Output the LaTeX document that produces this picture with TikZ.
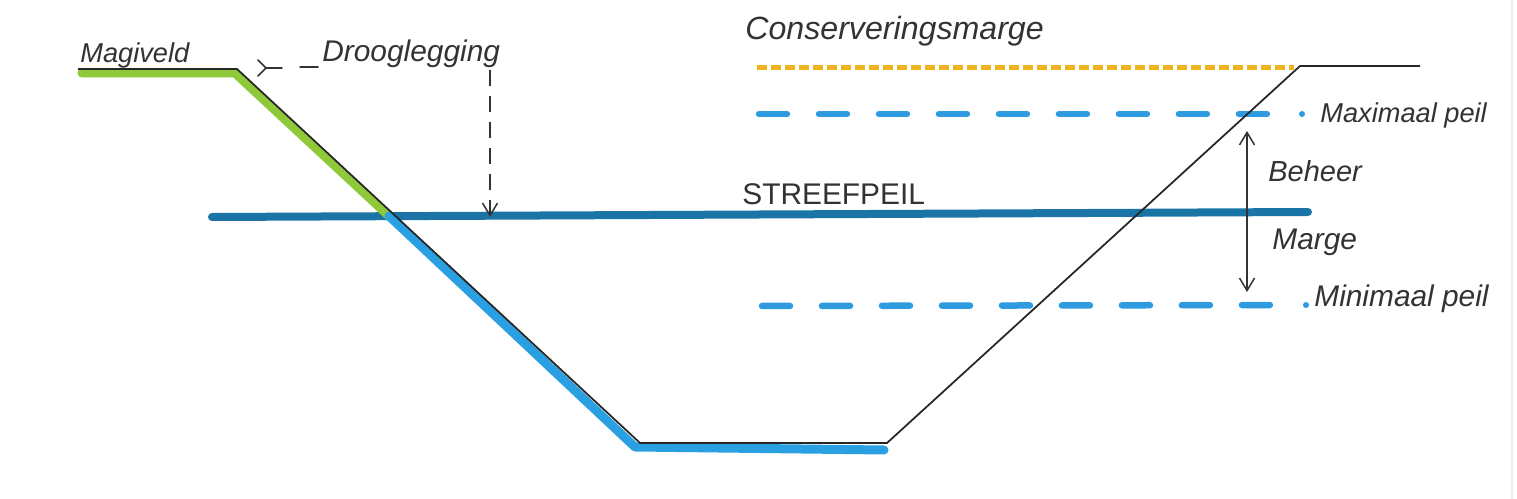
\documentclass[tikz,border=0pt]{standalone}
\usepackage{fontspec}
\setmainfont{Liberation Sans}
\usetikzlibrary{arrows.meta}
\definecolor{inkc}{HTML}{333333}
\definecolor{grassc}{HTML}{8FC93A}
\definecolor{wetc}{HTML}{2AA0E2}
\definecolor{streefc}{HTML}{1A75A6}
\definecolor{consc}{HTML}{F2B41C}
\definecolor{peilc}{HTML}{2E9BE0}
\tikzset{
  lbl/.style={inner sep=0pt, anchor=base west, text=inkc},
  profile/.style={draw=black!85, line width=0.035cm, line join=round},
  band/.style={line width=0.18cm, line join=round, line cap=round},
  peildash/.style={draw=peilc, line width=0.13cm, line cap=round, dash pattern=on 0.56cm off 0.64cm},
  consdash/.style={draw=consc, line width=0.1cm, dash pattern=on 0.2cm off 0.08cm},
  dimdash/.style={draw=inkc, line width=0.03cm, dash pattern=on 0.32cm off 0.2cm},
  dimtip/.style={-{Straight Barb[length=0.25cm,width=0.3cm,line width=0.03cm]}},
}
\begin{document}
\begin{tikzpicture}[x=0.02cm,y=-0.02cm]
\useasboundingbox[fill=white] (0,0) rectangle (1517,499);
\draw[black!7, line width=0.03cm] (1512,0) -- (1512,499);

% profile points
\coordinate (p0) at (78,69);
\coordinate (p1) at (237,69);
\coordinate (p2) at (640,443);
\coordinate (p3) at (887,443);
\coordinate (p4) at (1300,66);
\coordinate (p5) at (1420,66);

% streefpeil line
\coordinate (s0) at (212,217);
\coordinate (s1) at (1308,212);
\draw[draw=streefc, line width=0.16cm, line cap=round] (s0) -- (s1);

% green and blue bands along the slope
\coordinate (g0) at (82,73);
\coordinate (g1) at (235,73);
\coordinate (g2) at (389,216);
\coordinate (b0) at (389,216);
\coordinate (b1) at (635,447);
\coordinate (b2) at (884,450);
\draw[band, draw=grassc] (g0) -- (g1) -- (g2);
\draw[band, draw=wetc] (b0) -- (b1) -- (b2);

% conserveringsmarge and peil lines
\coordinate (c0) at (757,68);
\coordinate (c1) at (1294,68);
\draw[consdash] (c0) -- (c1);
\coordinate (mx0) at (759,114);
\coordinate (mx1) at (1275,114);
\draw[peildash] (mx0) -- (mx1);
\coordinate (mn0) at (762,306);
\coordinate (mn1) at (1275,305);
\draw[peildash] (mn0) -- (mn1);
\fill[peilc] (1302,114) circle[radius=3];
\fill[peilc] (1306,305) circle[radius=3];

% profile line
\draw[profile] (p0) -- (p1) -- (p2) -- (p3) -- (p4) -- (p5);

% drooglegging dimension
\coordinate (d0) at (258,60);
\coordinate (d1) at (258,76);
\coordinate (d2) at (266,68);
\coordinate (d3) at (282,68);
\coordinate (d4) at (300,67);
\coordinate (d5) at (318,67);
\coordinate (dt) at (490,70);
\coordinate (db) at (490,217);
\draw[inkc, line width=0.03cm, line cap=round] (d0) -- (d2) -- (d1);
\draw[inkc, line width=0.03cm, line cap=round] (d2) -- (d3);
\draw[inkc, line width=0.03cm, line cap=round] (d4) -- (d5);
\draw[dimdash, dimtip] (dt) -- (db);

% beheer marge arrow
\coordinate (a0) at (1247,131);
\coordinate (a1) at (1247,292);
\draw[inkc, line width=0.03cm, {Straight Barb[length=0.25cm,width=0.3cm,line width=0.03cm]}-{Straight Barb[length=0.25cm,width=0.3cm,line width=0.03cm]}] (a0) -- (a1);

% labels
\node[lbl, font=\fontsize{15.5}{18}\selectfont\itshape] (magiveld) at (80,63) {Magiveld};
\node[lbl, font=\fontsize{17}{20}\selectfont\itshape] (droog) at (322,62) {Drooglegging};
\node[lbl, font=\fontsize{18.3}{22}\selectfont\itshape] (cons) at (745,40) {Conserveringsmarge};
\node[lbl, font=\fontsize{17}{20}\selectfont] (streef) at (742,205) {STREEFPEIL};
\node[lbl, font=\fontsize{15.5}{18}\selectfont\itshape] (maxp) at (1320,123) {Maximaal peil};
\node[lbl, font=\fontsize{16.5}{18}\selectfont\itshape] (beheer) at (1268,182) {Beheer};
\node[lbl, font=\fontsize{17}{20}\selectfont\itshape] (marge) at (1272,250) {Marge};
\node[lbl, font=\fontsize{17}{20}\selectfont\itshape] (minp) at (1314,307) {Minimaal peil};
\end{tikzpicture}
\end{document}
